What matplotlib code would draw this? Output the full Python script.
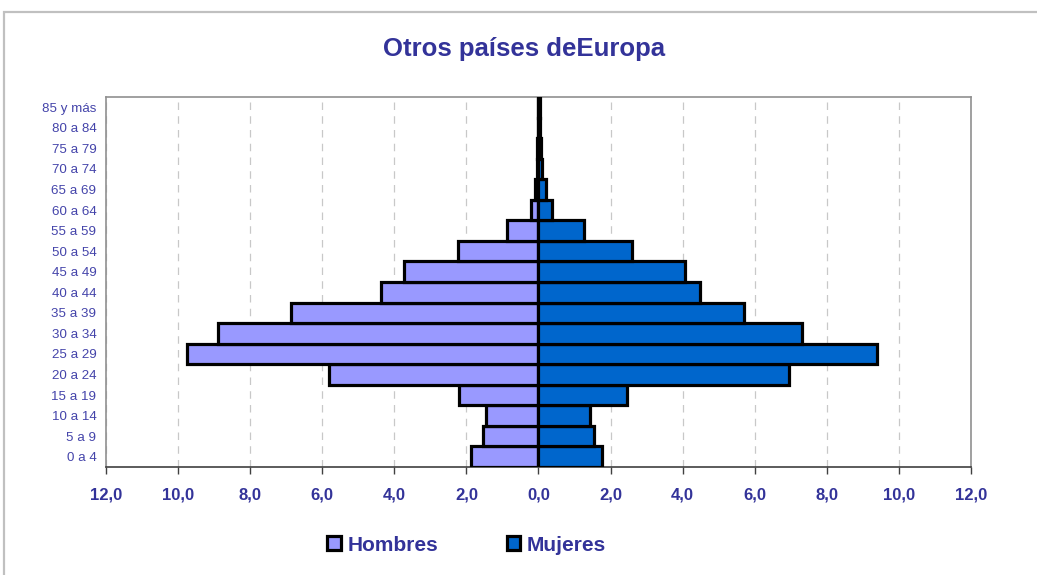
import numpy as np
import matplotlib
matplotlib.use("Agg")
import matplotlib.pyplot as plt
from matplotlib.patches import Patch, Rectangle

# age groups, bottom to top
grupos = ['0 a 4', '5 a 9', '10 a 14', '15 a 19', '20 a 24', '25 a 29', '30 a 34',
          '35 a 39', '40 a 44', '45 a 49', '50 a 54', '55 a 59', '60 a 64',
          '65 a 69', '70 a 74', '75 a 79', '80 a 84', '85 y más']
hombres = [1.88, 1.54, 1.46, 2.20, 5.80, 9.74, 8.88, 6.86, 4.36, 3.72, 2.24, 0.88,
           0.22, 0.10, 0.05, 0.03, 0.02, 0.01]
mujeres = [1.76, 1.55, 1.42, 2.47, 6.95, 9.38, 7.32, 5.70, 4.47, 4.07, 2.60, 1.26,
           0.38, 0.21, 0.11, 0.06, 0.05, 0.03]
xticks = [-12, -10, -8, -6, -4, -2, 0, 2, 4, 6, 8, 10, 12]

azul = '#333399'
plt.rcParams['font.family'] = ['Liberation Sans', 'DejaVu Sans']

fig = plt.figure(figsize=(10.37, 5.75), dpi=100)
ax = fig.add_axes([0.1022, 0.1878, 0.8341, 0.6435])

y = np.arange(len(grupos))
ax.barh(y, -np.array(hombres), height=1.0, color='#9999FF', edgecolor='black',
        linewidth=2.3, zorder=3)
ax.barh(y, mujeres, height=1.0, color='#0066CC', edgecolor='black',
        linewidth=2.3, zorder=3)

ax.set_xlim(-12, 12)
ax.set_ylim(-0.5, len(grupos) - 0.5)
ax.set_xticks(xticks)
ax.set_xticklabels([('%.1f' % abs(v)).replace('.', ',') for v in xticks],
                   fontsize=12, fontweight='bold', color=azul)
ax.set_yticks(y)
ax.set_yticklabels(grupos, fontsize=9.6, color='#4444AA')
ax.tick_params(axis='y', length=0, pad=7)
ax.tick_params(axis='x', direction='out', length=5, width=1, color='#404040', pad=10)

ax.xaxis.grid(True, linestyle=(0, (6, 5)), color='#C8C8C8', linewidth=0.9, zorder=0)
for s in ax.spines.values():
    s.set_color('#909090')
    s.set_linewidth(1.2)
ax.spines['bottom'].set_color('#404040')

fig.text(0.5055, 0.915, 'Otros países deEuropa', ha='center', va='center',
         fontsize=18.5, fontweight='bold', color=azul)

handles = [Patch(facecolor='#9999FF', edgecolor='black', linewidth=2.3, label='Hombres'),
           Patch(facecolor='#0066CC', edgecolor='black', linewidth=2.3, label='Mujeres')]
fig.legend(handles=handles, loc='center', bbox_to_anchor=(0.45, 0.052), ncol=2,
           frameon=False, handlelength=0.65, handleheight=0.65, handletextpad=0.3,
           columnspacing=3.3, prop={'size': 15, 'weight': 'bold'}, labelcolor=azul)

# outer chart border
fig.patches.append(Rectangle((0.004, -0.05), 1.1, 1.029, transform=fig.transFigure,
                             fill=False, edgecolor='#C0C0C0', linewidth=1.6))

fig.savefig('out.png', dpi=100)
